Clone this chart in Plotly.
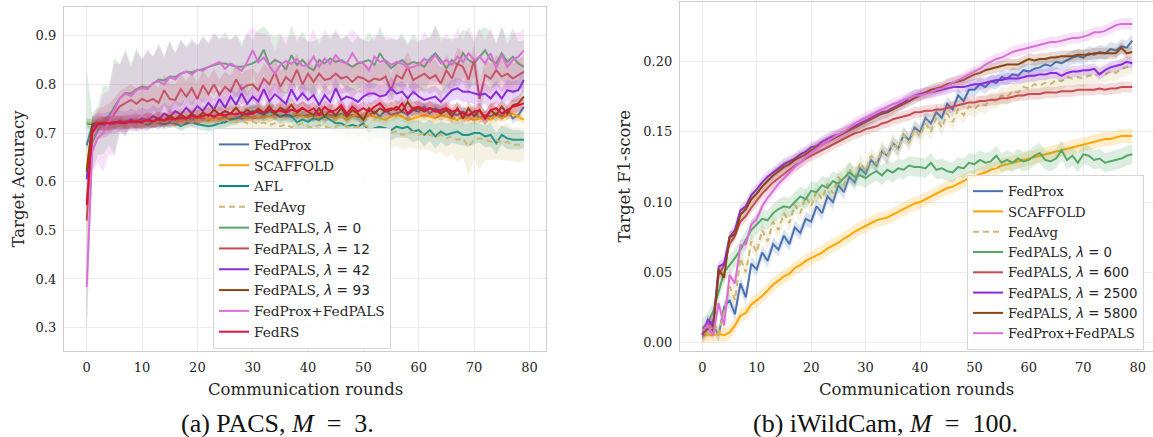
import plotly.graph_objects as go

W, H = 1153, 437

# ---------------- PACS (M = 3): target accuracy, values in thousandths ----------------
rounds_pacs = list(range(80))

pacs_fedprox = [
    675, 715, 718, 722, 720, 718, 722, 720, 724, 720,
    722, 725, 722, 726, 724, 728, 724, 727, 726, 730,
    728, 730, 727, 732, 730, 734, 728, 733, 730, 735,
    732, 730, 735, 733, 738, 734, 736, 732, 738, 735,
    737, 734, 740, 734, 737, 734, 740, 734, 737, 734,
    730, 737, 744, 734, 747, 737, 740, 744, 737, 747,
    744, 754, 740, 751, 744, 747, 740, 737, 744, 734,
    744, 730, 737, 734, 740, 734, 747, 730, 737, 754]
pacs_scaffold = [
    630, 712, 718, 720, 718, 722, 720, 718, 722, 720,
    722, 720, 724, 722, 725, 722, 726, 724, 728, 724,
    728, 726, 730, 727, 732, 728, 732, 730, 735, 730,
    734, 731, 735, 732, 737, 733, 738, 735, 740, 733,
    734, 737, 730, 737, 734, 730, 734, 727, 734, 737,
    734, 737, 734, 730, 727, 734, 737, 734, 727, 730,
    734, 737, 734, 730, 737, 734, 730, 727, 734, 730,
    727, 730, 734, 727, 737, 730, 737, 740, 734, 727]
pacs_afl = [
    720, 718, 718, 716, 718, 720, 722, 718, 722, 720,
    722, 716, 722, 720, 718, 722, 720, 714, 720, 722,
    718, 716, 714, 716, 720, 722, 728, 730, 735, 740,
    745, 742, 738, 745, 740, 733, 738, 735, 722, 728,
    723, 730, 727, 734, 727, 720, 720, 713, 717, 713,
    720, 703, 710, 713, 710, 706, 713, 710, 713, 703,
    706, 696, 706, 693, 703, 696, 700, 703, 696, 696,
    700, 700, 693, 696, 679, 696, 689, 686, 686, 686]
pacs_fedavg = [
    722, 720, 722, 718, 724, 720, 722, 716, 720, 722,
    718, 724, 720, 722, 726, 720, 724, 718, 726, 722,
    728, 724, 720, 730, 722, 728, 724, 722, 726, 720,
    724, 718, 722, 716, 720, 714, 718, 712, 716, 720,
    713, 710, 717, 713, 710, 713, 717, 713, 710, 713,
    717, 713, 706, 703, 706, 700, 703, 696, 700, 703,
    696, 700, 696, 693, 696, 689, 693, 686, 689, 672,
    686, 689, 686, 682, 686, 679, 682, 676, 676, 676]
pacs_pals_0 = [
    560, 680, 705, 727, 735, 755, 772, 782, 781, 790,
    795, 793, 802, 810, 808, 816, 815, 822, 826, 825,
    829, 831, 836, 840, 843, 843, 840, 836, 836, 840,
    843, 850, 871, 840, 850, 845, 830, 860, 840, 850,
    836, 829, 850, 843, 853, 846, 850, 843, 836, 843,
    846, 850, 840, 864, 846, 833, 843, 850, 840, 846,
    843, 836, 853, 864, 850, 833, 850, 840, 864, 850,
    843, 857, 870, 850, 843, 864, 846, 857, 843, 836]
pacs_pals_12 = [
    520, 700, 718, 722, 728, 740, 755, 762, 768, 760,
    770, 765, 770, 762, 788, 770, 768, 790, 775, 792,
    770, 798, 780, 800, 778, 795, 785, 810, 790, 798,
    800, 788, 812, 800, 825, 795, 815, 805, 830, 800,
    822, 805, 822, 809, 812, 822, 812, 816, 805, 816,
    812, 805, 812, 809, 816, 788, 819, 812, 836, 809,
    816, 822, 812, 819, 802, 829, 812, 843, 836, 809,
    850, 770, 819, 812, 829, 816, 822, 812, 819, 826]
pacs_pals_42 = [
    605, 712, 720, 718, 722, 720, 725, 722, 728, 724,
    730, 726, 735, 728, 740, 733, 745, 738, 752, 740,
    755, 745, 762, 748, 770, 752, 775, 758, 782, 760,
    775, 765, 790, 765, 780, 770, 760, 790, 768, 782,
    768, 778, 757, 778, 764, 792, 768, 775, 771, 764,
    775, 781, 781, 775, 778, 792, 781, 785, 771, 785,
    775, 768, 771, 775, 764, 775, 788, 792, 785, 785,
    781, 778, 781, 771, 785, 771, 788, 785, 788, 809]
pacs_pals_93 = [
    620, 718, 722, 720, 718, 722, 720, 724, 722, 726,
    722, 728, 724, 730, 726, 735, 728, 738, 730, 740,
    732, 742, 735, 748, 738, 745, 740, 752, 738, 748,
    740, 750, 742, 755, 740, 752, 745, 758, 742, 750,
    744, 737, 751, 734, 747, 737, 751, 734, 747, 740,
    727, 751, 740, 751, 744, 747, 754, 744, 764, 747,
    751, 744, 751, 747, 740, 747, 734, 751, 730, 751,
    734, 747, 730, 747, 737, 754, 740, 757, 761, 775]
pacs_prox_pals = [
    384, 662, 690, 700, 722, 748, 772, 781, 776, 788,
    792, 790, 803, 806, 800, 815, 810, 822, 826, 820,
    830, 828, 836, 841, 846, 832, 843, 836, 828, 846,
    870, 845, 855, 838, 822, 840, 848, 842, 852, 838,
    840, 857, 836, 853, 843, 860, 846, 843, 864, 846,
    843, 829, 857, 846, 850, 840, 846, 843, 833, 836,
    840, 853, 846, 860, 843, 850, 840, 857, 846, 864,
    850, 857, 843, 864, 833, 860, 836, 850, 857, 870]
pacs_fedrs = [
    552, 700, 718, 720, 720, 722, 722, 720, 724, 722,
    724, 726, 724, 728, 726, 730, 728, 732, 730, 735,
    732, 735, 738, 734, 738, 736, 740, 738, 742, 738,
    740, 745, 742, 748, 744, 746, 742, 748, 745, 752,
    744, 751, 737, 754, 744, 747, 757, 740, 754, 744,
    751, 744, 754, 761, 747, 751, 747, 761, 740, 751,
    754, 747, 751, 744, 747, 751, 744, 747, 740, 737,
    744, 747, 730, 747, 751, 740, 747, 754, 757, 761]

# spread across runs (thousandths)
pacs_afl_sd = [
    10, 10, 9, 10, 9, 10, 9, 10, 10, 9,
    10, 9, 10, 9, 10, 10, 9, 10, 10, 9,
    10, 10, 11, 10, 11, 12, 12, 13, 12, 13,
    14, 13, 14, 15, 14, 15, 16, 15, 16, 17,
    16, 18, 17, 18, 17, 19, 18, 20, 18, 22,
    20, 22, 20, 24, 22, 21, 22, 20, 23, 22,
    20, 24, 22, 25, 22, 24, 20, 26, 22, 24,
    22, 20, 22, 24, 22, 20, 22, 20, 20, 18]
pacs_fedavg_sd = [
    10, 10, 10, 10, 10, 10, 10, 10, 10, 10,
    10, 10, 10, 11, 10, 11, 10, 11, 12, 11,
    12, 11, 12, 13, 12, 14, 13, 15, 14, 16,
    15, 17, 16, 18, 17, 19, 18, 20, 19, 22,
    20, 22, 21, 23, 22, 24, 23, 26, 25, 28,
    26, 28, 27, 30, 28, 30, 29, 32, 30, 34,
    30, 34, 32, 36, 34, 40, 36, 45, 40, 60,
    40, 65, 42, 38, 40, 35, 38, 34, 36, 32]
pacs_pals_0_sd = [
    270, 60, 50, 70, 60, 100, 70, 90, 60, 85,
    55, 80, 55, 75, 50, 75, 50, 70, 50, 70,
    50, 70, 48, 65, 48, 65, 50, 68, 50, 65,
    50, 62, 48, 65, 48, 60, 50, 62, 48, 60,
    50, 60, 45, 58, 48, 60, 45, 58, 48, 55,
    45, 58, 48, 55, 45, 60, 48, 55, 45, 58,
    48, 55, 45, 58, 48, 60, 45, 55, 48, 58,
    45, 55, 48, 58, 45, 55, 48, 58, 45, 55]
pacs_prox_pals_sd = [
    100, 40, 50, 80, 65, 95, 70, 85, 60, 80,
    60, 78, 55, 72, 55, 70, 52, 70, 50, 68,
    52, 68, 50, 65, 50, 62, 50, 65, 48, 60,
    48, 60, 50, 62, 48, 60, 50, 58, 48, 60,
    48, 58, 45, 60, 48, 55, 45, 58, 48, 55,
    48, 58, 45, 55, 48, 58, 45, 55, 48, 58,
    45, 55, 48, 58, 45, 55, 48, 58, 45, 55,
    48, 58, 45, 55, 48, 58, 45, 55, 48, 45]

# ---------------- iWildCam (M = 100): target F1, values in thousandths ----------------
rounds_wild = list(range(80))

wild_fedprox = [
    5, 10, 12, 5, 25, 30, 20, 42, 32, 56,
    52, 64, 58, 70, 66, 76, 70, 82, 78, 88,
    86, 97, 92, 104, 100, 112, 107, 118, 114, 124,
    120, 130, 126, 136, 133, 142, 138, 148, 144, 153,
    150, 160, 156, 164, 160, 170, 166, 176, 172, 180,
    180, 184, 182, 186, 185, 189, 188, 191, 190, 194,
    193, 195, 196, 198, 197, 200, 199, 201, 203, 204,
    203, 206, 205, 207, 206, 209, 208, 211, 210, 215]
wild_scaffold = [
    5, 5, 5, 6, 5, 7, 12, 19, 21, 27,
    30, 33, 37, 41, 44, 47, 49, 53, 55, 58,
    60, 62, 64, 67, 69, 71, 74, 76, 79, 81,
    83, 85, 87, 88, 89, 91, 93, 95, 97, 99,
    100, 102, 104, 106, 108, 110, 111, 113, 115, 117,
    118, 120, 121, 123, 124, 126, 127, 128, 129, 130,
    131, 132, 133, 134, 135, 136, 137, 138, 139, 140,
    141, 142, 143, 144, 145, 145, 146, 147, 147, 147]
wild_fedavg = [
    5, 8, 15, 6, 22, 40, 30, 60, 50, 72,
    64, 80, 72, 86, 80, 92, 85, 98, 92, 104,
    97, 108, 102, 113, 106, 118, 112, 124, 117, 128,
    122, 133, 127, 138, 132, 143, 137, 148, 142, 152,
    147, 156, 150, 160, 153, 163, 157, 166, 162, 168,
    166, 170, 169, 173, 172, 176, 175, 179, 178, 182,
    181, 184, 183, 185, 184, 187, 186, 189, 188, 189,
    188, 190, 190, 192, 191, 193, 192, 195, 196, 198]
wild_pals_0 = [
    10, 14, 22, 37, 50, 55, 60, 66, 73, 80,
    84, 88, 87, 92, 95, 97, 96, 100, 104, 102,
    108, 107, 112, 110, 115, 113, 117, 121, 118, 119,
    117, 120, 122, 119, 123, 121, 124, 123, 126, 125,
    125, 124, 128, 123, 124, 122, 121, 125, 124, 128,
    127, 130, 128, 129, 133, 128, 130, 128, 131, 129,
    130, 133, 135, 130, 129, 131, 137, 130, 133, 128,
    134, 133, 130, 131, 128, 129, 130, 131, 133, 134]
wild_pals_600 = [
    6, 12, 15, 48, 55, 70, 76, 86, 90, 96,
    101, 106, 110, 114, 117, 120, 123, 126, 128, 131,
    133, 135, 137, 139, 141, 143, 145, 147, 149, 150,
    152, 153, 154, 156, 157, 159, 160, 161, 162, 164,
    164, 165, 165, 166, 166, 167, 168, 169, 170, 171,
    171, 172, 172, 173, 173, 174, 174, 175, 176, 176,
    177, 177, 177, 178, 178, 178, 179, 179, 179, 180,
    180, 180, 180, 181, 180, 181, 181, 182, 182, 182]
wild_pals_2500 = [
    5, 16, 12, 54, 56, 75, 80, 94, 97, 105,
    109, 114, 118, 121, 124, 127, 129, 131, 134, 136,
    139, 140, 143, 145, 147, 148, 150, 152, 154, 156,
    158, 160, 162, 164, 165, 167, 169, 171, 174, 176,
    177, 178, 178, 179, 180, 181, 182, 182, 182, 183,
    184, 184, 185, 186, 187, 187, 188, 188, 188, 189,
    190, 190, 191, 191, 192, 192, 190, 192, 193, 193,
    194, 194, 195, 191, 194, 196, 197, 198, 200, 199]
wild_pals_5800 = [
    6, 10, 8, 52, 46, 75, 77, 91, 95, 102,
    106, 111, 115, 119, 122, 125, 127, 130, 132, 134,
    137, 139, 141, 143, 145, 147, 149, 151, 153, 155,
    157, 159, 161, 163, 164, 166, 168, 170, 172, 174,
    176, 178, 180, 181, 182, 184, 185, 186, 187, 189,
    191, 192, 194, 195, 196, 197, 198, 198, 198, 200,
    202, 201, 202, 202, 203, 203, 204, 204, 204, 205,
    205, 205, 206, 206, 206, 206, 206, 210, 206, 207]
wild_prox_pals = [
    8, 12, 5, 28, 12, 48, 42, 69, 70, 84,
    88, 97, 103, 108, 113, 117, 121, 125, 128, 132,
    135, 138, 141, 143, 146, 148, 150, 153, 156, 158,
    160, 162, 164, 166, 168, 170, 171, 173, 174, 176,
    176, 177, 178, 180, 181, 183, 185, 187, 189, 191,
    193, 195, 198, 200, 202, 203, 205, 207, 208, 209,
    210, 211, 212, 213, 214, 214, 215, 216, 217, 217,
    218, 219, 221, 221, 222, 224, 226, 227, 227, 227]

# ---------------- series definitions ----------------
pacs_series = [
    ("FedProx", pacs_fedprox, 10, "#4c72b0", "solid"),
    ("SCAFFOLD", pacs_scaffold, 10, "#ffa500", "solid"),
    ("AFL", pacs_afl, pacs_afl_sd, "#008b8b", "solid"),
    ("FedAvg", pacs_fedavg, pacs_fedavg_sd, "#ccb974", "6px,4px"),
    ("FedPALS, λ = 0", pacs_pals_0, pacs_pals_0_sd, "#55a868", "solid"),
    ("FedPALS, λ = 12", pacs_pals_12, 32, "#c44e52", "solid"),
    ("FedPALS, λ = 42", pacs_pals_42, 22, "#8a2be2", "solid"),
    ("FedPALS, λ = 93", pacs_pals_93, 15, "#8b4513", "solid"),
    ("FedProx+FedPALS", pacs_prox_pals, pacs_prox_pals_sd, "#da70d6", "solid"),
    ("FedRS", pacs_fedrs, 14, "#dc143c", "solid"),
]
wild_series = [
    ("FedProx", wild_fedprox, 5, "#4c72b0", "solid"),
    ("SCAFFOLD", wild_scaffold, 5, "#ffa500", "solid"),
    ("FedAvg", wild_fedavg, 6, "#ccb974", "6px,4px"),
    ("FedPALS, λ = 0", wild_pals_0, 7, "#55a868", "solid"),
    ("FedPALS, λ = 600", wild_pals_600, 4, "#c44e52", "solid"),
    ("FedPALS, λ = 2500", wild_pals_2500, 4, "#8a2be2", "solid"),
    ("FedPALS, λ = 5800", wild_pals_5800, 4, "#8b4513", "solid"),
    ("FedProx+FedPALS", wild_prox_pals, 4, "#da70d6", "solid"),
]

SERIF = "DejaVu Serif"
TEXT = "#262626"


def rgba(hex_color, a):
    h = hex_color.lstrip("#")
    r, g, b = int(h[0:2], 16), int(h[2:4], 16), int(h[4:6], 16)
    return f"rgba({r},{g},{b},{a})"


def legend_label(name):
    if "λ" in name:
        head, val = name.split("λ = ")
        return (f"{head}<span style='font-family:DejaVu Sans'><i>λ</i> = {val}</span>")
    return name


fig = go.Figure()


def add_panel(series, rounds, xa, ya, legend):
    for name, vals, sd, color, dash in series:
        mean = [v / 1000 for v in vals]
        sds = [s / 1000 for s in (sd if isinstance(sd, list) else [sd] * len(vals))]
        upper = [m + s for m, s in zip(mean, sds)]
        lower = [m - s for m, s in zip(mean, sds)]
        fig.add_trace(go.Scatter(
            x=rounds + rounds[::-1], y=upper + lower[::-1],
            fill="toself", fillcolor=rgba(color, 0.2), line=dict(width=0),
            mode="lines", hoverinfo="skip", showlegend=False,
            xaxis=xa, yaxis=ya))
        fig.add_trace(go.Scatter(
            x=rounds, y=mean, mode="lines", name=legend_label(name),
            line=dict(color=color, width=2, dash=dash),
            xaxis=xa, yaxis=ya, legend=legend))


add_panel(pacs_series, rounds_pacs, "x", "y", "legend")
add_panel(wild_series, rounds_wild, "x2", "y2", "legend2")

axis_common = dict(
    showgrid=True, gridcolor="#ebebeb", gridwidth=1,
    showline=True, linecolor="#cccccc", linewidth=1.3, mirror=True,
    zeroline=False, ticks="", ticklabelstandoff=4,
    tickfont=dict(family=SERIF, size=13, color=TEXT),
)

fig.update_layout(
    width=W, height=H,
    margin=dict(l=0, r=0, t=0, b=0),
    paper_bgcolor="white", plot_bgcolor="white",
    xaxis=dict(domain=[64 / W, 546 / W], range=[-4.10, 83.0],
               tickvals=list(range(0, 90, 10)), anchor="y", **axis_common),
    yaxis=dict(domain=[1 - 351 / H, 1 - 7 / H], range=[0.252, 0.959],
               tickvals=[0.3, 0.4, 0.5, 0.6, 0.7, 0.8, 0.9], tickformat=".1f",
               anchor="x", **axis_common),
    xaxis2=dict(domain=[680 / W, 1.0], range=[-4.10, 82.81],
                tickvals=list(range(0, 90, 10)), anchor="y2", **axis_common),
    yaxis2=dict(domain=[1 - 351 / H, 1 - 2 / H], range=[-0.0062, 0.2426],
                tickvals=[0.0, 0.05, 0.10, 0.15, 0.20], tickformat=".2f",
                anchor="x2", **axis_common),
    legend=dict(x=213 / W, y=1 - 128 / H, xanchor="left", yanchor="top",
                bgcolor="rgba(255,255,255,0.85)", bordercolor="#d6d6d6", borderwidth=1,
                font=dict(family=SERIF, size=13.7, color=TEXT), tracegroupgap=0),
    legend2=dict(x=967 / W, y=1 - 175 / H, xanchor="left", yanchor="top",
                 bgcolor="rgba(255,255,255,0.85)", bordercolor="#d6d6d6", borderwidth=1,
                 font=dict(family=SERIF, size=13.3, color=TEXT), tracegroupgap=0),
    showlegend=True,
)

ann = [
    dict(text="Communication rounds", x=305 / W, y=1 - 389 / H, angle=0),
    dict(text="Communication rounds", x=916 / W, y=1 - 389 / H, angle=0),
    dict(text="Target Accuracy", x=17.5 / W, y=1 - 179 / H, angle=-90),
    dict(text="Target F1-score", x=624 / W, y=1 - 176.5 / H, angle=-90),
]
for a in ann:
    fig.add_annotation(text=a["text"], x=a["x"], y=a["y"], xref="paper", yref="paper",
                       xanchor="center", yanchor="middle", showarrow=False,
                       textangle=a["angle"],
                       font=dict(family=SERIF, size=16.5, color=TEXT, weight=400))

captions = [
    ("(a) PACS, <i>M</i>  =  3.", 277),
    ("(b) iWildCam, <i>M</i>  =  100.", 885.5),
]
for text, cx in captions:
    fig.add_annotation(text=text, x=cx / W, y=1 - 423 / H, xref="paper", yref="paper",
                       xanchor="center", yanchor="middle", showarrow=False,
                       font=dict(family="Liberation Serif", size=26, color="#111111"))

fig.write_html("out.html")
